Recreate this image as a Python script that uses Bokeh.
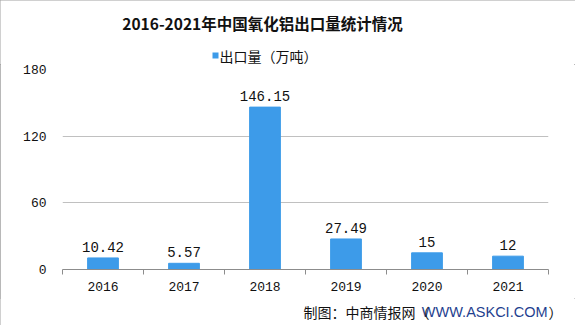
from bokeh.plotting import figure
from bokeh.layouts import column
from bokeh.models import (ColumnDataSource, FixedTicker, Label, Range1d, BoxAnnotation)
from bokeh.core.properties import value
from bokeh.embed import file_html
from bokeh.resources import INLINE

years = ["2016", "2017", "2018", "2019", "2020", "2021"]
export_vol = [10.42, 5.57, 146.15, 27.49, 15, 12]
value_labels = ["10.42", "5.57", "146.15", "27.49", "15", "12"]
y_ticks = [0, 60, 120, 180]

title_text = "2016-2021年中国氧化铝出口量统计情况"
series_name = "出口量（万吨）"
bar_color = "#3d9be9"
W = 575


def blank(h):
    f = figure(width=W, height=h, output_backend="svg", toolbar_location=None,
               x_range=Range1d(0, W), y_range=Range1d(0, h), min_border=0,
               x_axis_location=None, y_axis_location=None)
    f.frame_align = False
    f.grid.visible = False
    f.outline_line_color = None
    f.title = None
    return f


# ---- header: title + legend ----
head = blank(64)
head.add_layout(Label(x=262, y=42, x_units="screen", y_units="screen", text=title_text,
                      text_align="center", text_baseline="middle", text_font="Noto Sans CJK SC",
                      text_font_size="15.5px", text_font_style="bold", text_color="#111111"))
head.add_layout(BoxAnnotation(left=212, right=218, bottom=6, top=12,
                              left_units="screen", right_units="screen",
                              bottom_units="screen", top_units="screen",
                              fill_color=bar_color, fill_alpha=1, line_color=None))
head.add_layout(Label(x=219, y=9, x_units="screen", y_units="screen", text=series_name,
                      text_align="left", text_baseline="middle", text_font="Noto Sans CJK SC",
                      text_font_size="14px", text_color="#111111"))

# ---- main chart ----
xs = [i + 0.5 for i in range(len(years))]
src = ColumnDataSource(dict(x=xs, top=export_vol, lab=value_labels))

p = figure(width=W, height=234, output_backend="svg", toolbar_location=None,
           x_range=Range1d(0, len(years)), y_range=Range1d(0, 180),
           min_border_left=62, min_border_right=27, min_border_top=5, min_border_bottom=29)
p.frame_align = False
p.title = None
p.outline_line_color = None

bars = p.vbar(x="x", top="top", width=0.38, source=src, color=bar_color)
p.text(x="x", y="top", text="lab", source=src, text_align="center", text_baseline="bottom",
       y_offset=-6, text_font=value("Liberation Mono"), text_font_size="14px", text_color="#111111")

p.yaxis.ticker = FixedTicker(ticks=y_ticks)
p.yaxis.axis_line_color = None
p.yaxis.major_tick_line_color = None
p.yaxis.minor_tick_line_color = None
p.yaxis.major_label_text_font = "Liberation Mono"
p.yaxis.major_label_text_font_size = "13px"
p.yaxis.major_label_text_color = "#111111"
p.yaxis.major_label_standoff = 10

p.xaxis.ticker = FixedTicker(ticks=xs, minor_ticks=list(range(len(years) + 1)))
p.xaxis.major_label_overrides = {x: y for x, y in zip(xs, years)}
p.xaxis.major_tick_line_color = None
p.xaxis.minor_tick_out = 5
p.xaxis.minor_tick_in = 0
p.xaxis.minor_tick_line_color = "#8c8c8c"
p.xaxis.axis_line_color = "#8c8c8c"
p.xaxis.major_label_text_font = "Liberation Mono"
p.xaxis.major_label_text_font_size = "13px"
p.xaxis.major_label_text_color = "#111111"
p.xaxis.major_label_standoff = 6

p.xgrid.grid_line_color = None
p.ygrid.grid_line_color = "#c0c0c0"

# ---- footer: source note ----
foot = blank(27)
foot.add_layout(Label(x=562, y=14, x_units="screen", y_units="screen", text="）",
                      text_align="right", text_baseline="middle", text_font="Noto Sans CJK SC",
                      text_font_size="14px", text_color="#111111"))
foot.add_layout(Label(x=547, y=14, x_units="screen", y_units="screen", text="WWW.ASKCI.COM",
                      text_align="right", text_baseline="middle", text_font="Liberation Sans",
                      text_font_size="14.5px", text_color="#1f3f8f"))
foot.add_layout(Label(x=303, y=14, x_units="screen", y_units="screen", text="制图：中商情报网（",
                      text_align="left", text_baseline="middle", text_font="Noto Sans CJK SC",
                      text_font_size="14px", text_color="#111111"))

layout = column(head, p, foot, spacing=0)
layout.styles = {"outline": "1px solid #a0a0a0", "outline-offset": "-1px"}

open("out.html", "w").write(file_html(layout, INLINE))
